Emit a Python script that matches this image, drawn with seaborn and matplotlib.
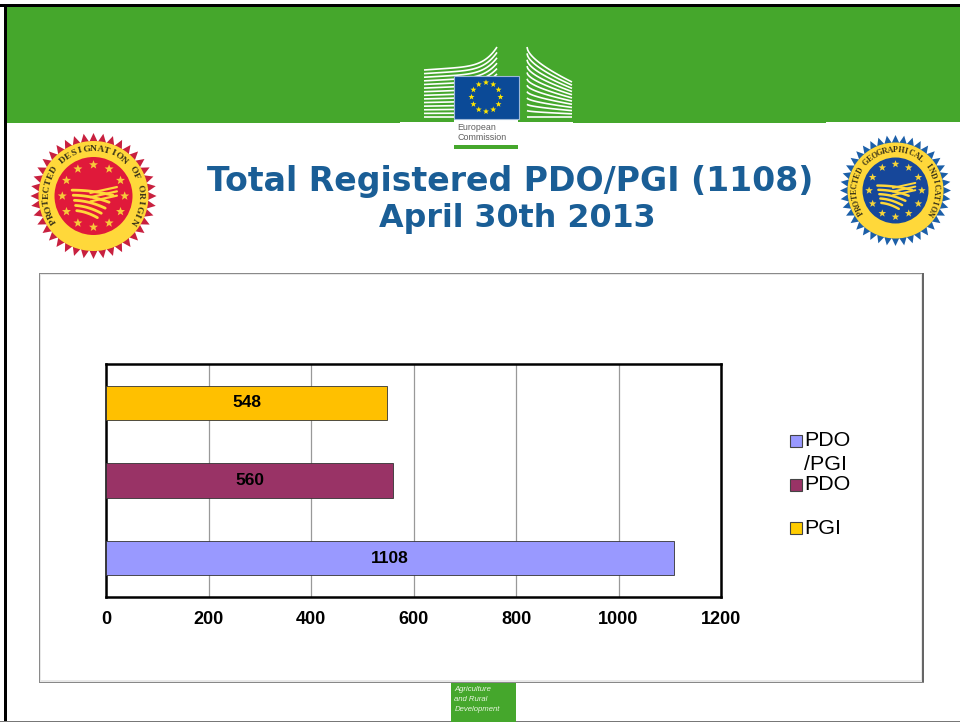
import numpy as np
import pandas as pd
import matplotlib
matplotlib.use("Agg")
import matplotlib.pyplot as plt
from matplotlib.patches import Rectangle, Polygon, Circle
import seaborn as sns

# ---- data ----
categories = ["PGI", "PDO", "PDO/PGI"]
values = [548, 560, 1108]
colors = ["#FFC000", "#993366", "#9999FF"]
legend_labels = ["PDO\n/PGI", "PDO", "PGI"]
legend_colors = ["#9999FF", "#993366", "#FFCC00"]
x_ticks = [0, 200, 400, 600, 800, 1000, 1200]
title_lines = ["Total Registered PDO/PGI (1108)", "April 30th 2013"]

W, H = 960, 722
GREEN = "#45A72C"
sns.set_theme(style="white")
plt.rcParams["font.family"] = ["Liberation Sans", "DejaVu Sans"]

fig = plt.figure(figsize=(W / 100, H / 100), dpi=100, facecolor="white")

# ---- slide background, in pixel coordinates ----
bg = fig.add_axes([0, 0, 1, 1], zorder=0)
bg.set_xlim(0, W)
bg.set_ylim(H, 0)
bg.axis("off")


def rect(x0, y0, x1, y1, color, z=1, **kw):
    bg.add_patch(Rectangle((x0, y0), x1 - x0, y1 - y0, facecolor=color, edgecolor="none", zorder=z, **kw))


def star(cx, cy, r, color, z=5):
    a = -np.pi / 2 + np.arange(10) * np.pi / 5
    rr = np.where(np.arange(10) % 2 == 0, r, r * 0.42)
    bg.add_patch(Polygon(np.c_[cx + rr * np.cos(a), cy + rr * np.sin(a)], closed=True,
                         facecolor=color, edgecolor="none", zorder=z))


# frame and header
rect(6, 7, W, 123, GREEN)
rect(400, 121.5, 573, 124, "white", 2)
rect(826, 121.5, W, 124, "white", 2)
rect(0, 4, W, 7, "black", 3)
rect(4, 4, 6.5, H, "black", 3)
rect(0, 720.5, W, 722, "#777777", 3)

# building logo
for t in np.linspace(0, 1, 14):
    xs = np.linspace(424, 497, 60)
    u = (xs - 424) / 73
    y0 = 70 - 5 * u - 18 * u ** 6
    y = y0 + (117 - y0) * t
    bg.plot(xs, y, color="white", lw=1.2, zorder=2, solid_capstyle="butt")
for t in np.linspace(0, 1, 12):
    xs = np.linspace(527, 572, 60)
    u = (xs - 527) / 45
    y0 = 47 + 28 * u ** 0.55 + 7 * u
    y = y0 + (117 - y0) * t
    bg.plot(xs, y, color="white", lw=1.2, zorder=2, solid_capstyle="butt")
rect(454, 119, 518, 150, "white", 3)
rect(454, 75.5, 518.5, 119, "#0B4A97", 4)
bg.add_patch(Rectangle((454, 75.5), 64.5, 43.5, facecolor="none", edgecolor="#9DB8D8", lw=0.8, zorder=5))
for k in range(12):
    ang = k * np.pi / 6
    star(486 + 14.5 * np.sin(ang), 97 - 14.5 * np.cos(ang), 3.1, "#FFE600", 6)
bg.text(457.5, 127, "European", fontsize=6.4, color="#5F5F5F", va="center", ha="left", zorder=6)
bg.text(457.5, 137, "Commission", fontsize=6.4, color="#5F5F5F", va="center", ha="left", zorder=6)
rect(454, 145, 518, 148.5, GREEN, 6)


# quality seals
def seal(cx, cy, R, r_gold, r_in, c_out, c_in, c_gold, c_star, words, n_teeth, fs):
    a = np.linspace(0, 2 * np.pi, 2 * n_teeth, endpoint=False)
    rr = np.where(np.arange(2 * n_teeth) % 2 == 0, R, R * 0.86)
    bg.add_patch(Polygon(np.c_[cx + rr * np.sin(a), cy - rr * np.cos(a)], closed=True,
                         facecolor=c_out, edgecolor="none", zorder=2))
    bg.add_patch(Circle((cx, cy), r_gold, facecolor=c_gold, edgecolor="none", zorder=3))
    bg.add_patch(Circle((cx, cy), r_in, facecolor=c_in, edgecolor="none", zorder=4))
    for k in range(12):
        ang = k * np.pi / 6
        star(cx + r_in * 0.8 * np.sin(ang), cy - r_in * 0.8 * np.cos(ang), r_in * 0.12, c_star, 6)
    # field stripes
    lw = 2.0 * R / 63
    for j in range(5):
        xs = np.linspace(-0.55 + j * 0.03, 0.15 + (0.35 - j * 0.1), 30)
        ys = -0.15 + j * 0.13 + (0.12 + j * 0.08) * (xs + 0.55) ** 2
        bg.plot(cx + r_in * xs, cy + r_in * ys, color=c_gold, lw=lw, zorder=5)
    for j in range(3):
        xs = np.linspace(-0.08, 0.6, 20)
        ys = -0.2 + j * 0.11 - 0.22 * (xs + 0.08) + 0.12
        bg.plot(cx + r_in * xs, cy + r_in * ys, color=c_gold, lw=lw * 0.8, zorder=5)
    # curved lettering
    rt = (r_gold + r_in) / 2
    span = np.radians(252)
    n = len(words)
    for i, ch in enumerate(words):
        ang = -span / 2 + span * (i + 0.5) / n
        bg.text(cx + rt * np.sin(ang), cy - rt * np.cos(ang), ch, fontsize=fs, family="Liberation Serif",
                fontweight="bold", color="#3A3318", rotation=-np.degrees(ang), rotation_mode="anchor",
                ha="center", va="center", zorder=7)


seal(93.5, 196, 63, 55, 39, "#C8203F", "#E0193A", "#FFD83A", "#F7C93A",
     "PROTECTED DESIGNATION OF ORIGIN", 40, 6.8)
seal(895.5, 190.5, 55.5, 48, 33, "#1C5FA8", "#16479A", "#FFD83A", "#F5D33A",
     "PROTECTED GEOGRAPHICAL INDICATION", 40, 5.8)

# title
for line, x, y, fs in zip(title_lines, [510.5, 517], [181, 218], [23.85, 22.85]):
    bg.text(x, y, line, fontsize=fs, fontweight="bold", family="DejaVu Sans", color="#1A5E96",
            ha="center", va="center", zorder=5)

# chart frame
rect(39, 273, 923.5, 683, "#E8E8E8", 1)
rect(41, 275, 921, 680, "white", 1.1)
rect(39, 273, 923.5, 274, "#8A8A8A", 1.2)
rect(39, 273, 40, 683, "#8A8A8A", 1.2)
rect(921.5, 273, 924, 683, "#666666", 1.2)
rect(39, 681.5, 924, 683, "#888888", 1.2)

# legend
for lab, col, y in zip(legend_labels, legend_colors, [441, 484.5, 528]):
    bg.add_patch(Rectangle((790, y - 6), 12, 12, facecolor=col, edgecolor="#444444", lw=0.8, zorder=5))
    bg.text(804.5, y - 9.5, lab, fontsize=15.4, color="black", ha="left", va="top", linespacing=1.33, zorder=5)

# footer logo
rect(451, 683, 516, H, GREEN, 4)
for txt, y in zip(["Agriculture", "and Rural", "Development"], [689.5, 699.5, 709.5]):
    bg.text(454.5, y, txt, fontsize=5.6, style="italic", color="#E8F5E0", ha="left", va="center", zorder=5)

# ---- bar chart ----
left, right, top, bottom = 106, 721, 364, 597
ax = fig.add_axes([left / W, 1 - bottom / H, (right - left) / W, (bottom - top) / H], zorder=2)
df = pd.DataFrame({"category": categories, "value": values})
sns.barplot(data=df, y="category", x="value", hue="category", order=categories, hue_order=categories,
            palette=colors, dodge=False, legend=False, width=0.44, edgecolor="#333333", linewidth=0.6,
            saturation=1, ax=ax, zorder=3)
for cont in ax.containers:
    ax.bar_label(cont, label_type="center", fontsize=12.5, fontweight="bold", color="black", zorder=5)
ax.set_xlim(0, 1200)
ax.set_ylim(2.5, -0.5)
ax.set_xticks(x_ticks)
ax.set_yticks([])
ax.set_xlabel("")
ax.set_ylabel("")
ax.set_axisbelow(True)
ax.grid(axis="x", color="#999999", lw=0.9)
ax.grid(axis="y", visible=False)
ax.set_facecolor("white")
ax.tick_params(axis="x", length=0, pad=10, labelsize=13, colors="black")
for lab in ax.get_xticklabels():
    lab.set_fontweight("bold")
for s in ax.spines.values():
    s.set_visible(True)
    s.set_color("black")
    s.set_linewidth(1.8)

fig.savefig("out.png", dpi=100)
